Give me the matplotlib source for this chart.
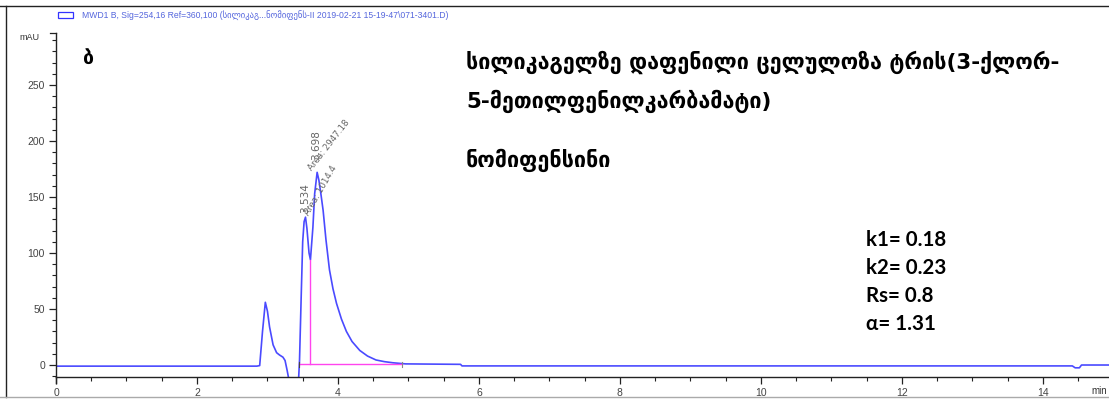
import matplotlib
matplotlib.use("Agg")
import matplotlib.pyplot as plt
from matplotlib.lines import Line2D
from matplotlib.patches import Rectangle
from matplotlib.ticker import MultipleLocator

# ---- data ----
time_min = [0.0, 2.85, 2.89, 2.93, 2.97, 3.00, 3.03, 3.08, 3.13, 3.17, 3.22, 3.25,
            3.28, 3.31, 3.44, 3.455, 3.48, 3.50, 3.52, 3.54, 3.56, 3.59, 3.61,
            3.645, 3.67, 3.705, 3.73, 3.76, 3.79, 3.83, 3.88, 3.93, 3.98, 4.05,
            4.12, 4.20, 4.31, 4.42, 4.54, 4.66, 4.78, 4.96, 5.74, 5.76, 14.42,
            14.46, 14.52, 14.55, 14.94]
signal_mau = [-1.0, -1.0, -0.5, 30, 56, 48, 34, 18, 11, 9, 7, 4,
              -5, -15, -15, 4, 64, 110, 128, 132, 122, 100, 94,
              123, 153, 172, 165, 152, 138, 112, 85, 68, 55, 41,
              30, 21, 13, 8, 4.5, 3, 2, 1, 0.6, -0.8, -0.8,
              -2.5, -2.5, 0, 0]

peak_times = [3.534, 3.698]
peak_label_y = [136, 183]
peak_areas = ["1014.4", "2947.18"]
area_anchor_t = [3.62, 3.66]
area_anchor_y = [132, 172]
area_angle = [60, 52]

valley_t = 3.61
valley_y = 94
baseline_t = [3.45, 4.91]
baseline_y = [0.5, 0.5]

params = ["k1= 0.18", "k2= 0.23", "Rs= 0.8", "α= 1.31"]
title_lines = ["სილიკაგელზე დაფენილი ცელულოზა ტრის(3-ქლორ-",
               "5-მეთილფენილკარბამატი)",
               "ნომიფენსინი"]
panel_letter = "ბ"
legend_text = "MWD1 B, Sig=254,16 Ref=360,100 (სილიკაგ...ნომიფენს-II 2019-02-21 15-19-47\\071-3401.D)"

W, H = 1109, 399
fig = plt.figure(figsize=(W / 100, H / 100), dpi=100)

def fx(px):
    return px / W

def fy(py):
    return 1 - py / H

ax = fig.add_axes([fx(56), fy(377), fx(1109) - fx(56), fy(33) - fy(377)])
ax.set_xlim(0, 14.94)
ax.set_ylim(-10.7, 296.4)

line_col = "#4a4aff"
ax.plot(time_min, signal_mau, color=line_col, lw=1.2)

pink = "#ff44ee"
ax.plot([valley_t, valley_t], [baseline_y[0], valley_y], color=pink, lw=1.0)
ax.plot(baseline_t, baseline_y, color=pink, lw=1.0)
ax.plot([baseline_t[0], baseline_t[0]], [-2, 3], color="#444444", lw=0.8)
ax.plot([baseline_t[1], baseline_t[1]], [-2, 3], color="#888888", lw=0.8)

lab_col = "#666666"
for t, y in zip(peak_times, peak_label_y):
    ax.text(t, y, f"{t:.3f}", rotation=90, ha="center", va="bottom",
            fontsize=7.5, color=lab_col, family="DejaVu Sans")
for t, y, a, ang in zip(area_anchor_t, area_anchor_y, peak_areas, area_angle):
    ax.text(t, y, f"Area: {a}", rotation=ang, rotation_mode="anchor",
            ha="left", va="bottom", fontsize=6.3, color=lab_col,
            family="DejaVu Sans")

for s in ["top", "right"]:
    ax.spines[s].set_visible(False)
for s in ["left", "bottom"]:
    ax.spines[s].set_color("#222222")
    ax.spines[s].set_linewidth(1.0)

ax.xaxis.set_major_locator(MultipleLocator(2))
ax.xaxis.set_minor_locator(MultipleLocator(0.5))
ax.yaxis.set_major_locator(MultipleLocator(50))
ax.yaxis.set_minor_locator(MultipleLocator(10))
ax.tick_params(which="major", direction="out", length=5, width=0.9,
               color="#222222", labelsize=7.5, labelcolor="#444444", pad=3)
ax.tick_params(which="minor", direction="out", length=3, width=0.8,
               color="#222222")
for lbl in ax.get_xticklabels() + ax.get_yticklabels():
    lbl.set_family("Liberation Sans")

# top bracket of y axis and extension below x axis
ax.plot([-0.006, 0], [1, 1], transform=ax.transAxes, color="#222222",
        lw=0.9, clip_on=False)
ax.plot([0, 0], [0, -0.018], transform=ax.transAxes, color="#222222",
        lw=1.0, clip_on=False)

fig.text(fx(40), fy(38), "mAU", ha="right", va="center", fontsize=6.5,
         color="#333333", family="Liberation Sans")
fig.text(fx(1107), fy(391), "min", ha="right", va="center", fontsize=7,
         color="#333333", family="Liberation Sans")

# legend line
fig.add_artist(Rectangle((fx(58), fy(18)), fx(15), fy(12) - fy(18),
                         transform=fig.transFigure, fill=False,
                         edgecolor="#3333ff", lw=0.9))
fig.text(fx(82), fy(15), legend_text, ha="left", va="center", fontsize=6.2,
         color="#5566dd", family=["Liberation Sans", "DejaVu Sans"])

# annotations
fig.text(fx(88), fy(58), panel_letter, ha="center", va="center", fontsize=14,
         fontweight="bold", family="DejaVu Sans", color="black")
for txt, py in zip(title_lines, [62, 101, 160]):
    fig.text(fx(466), fy(py), txt, ha="left", va="center", fontsize=15.5,
             fontweight="bold", family="DejaVu Sans", color="black")
for txt, py in zip(params, [240, 268, 296, 324]):
    fig.text(fx(866), fy(py), txt, ha="left", va="center", fontsize=14.8,
             fontweight="bold", family=["Lato", "DejaVu Sans"], color="black")

# outer frame
fig.add_artist(Line2D([fx(0), fx(1109)], [fy(6), fy(6)], color="#222222", lw=1.0))
fig.add_artist(Line2D([fx(6), fx(6)], [fy(6), fy(397)], color="#222222", lw=1.0))
fig.add_artist(Line2D([fx(0), fx(1109)], [fy(397), fy(397)], color="#aaaaaa", lw=1.0))

fig.savefig("out.png", dpi=100)
